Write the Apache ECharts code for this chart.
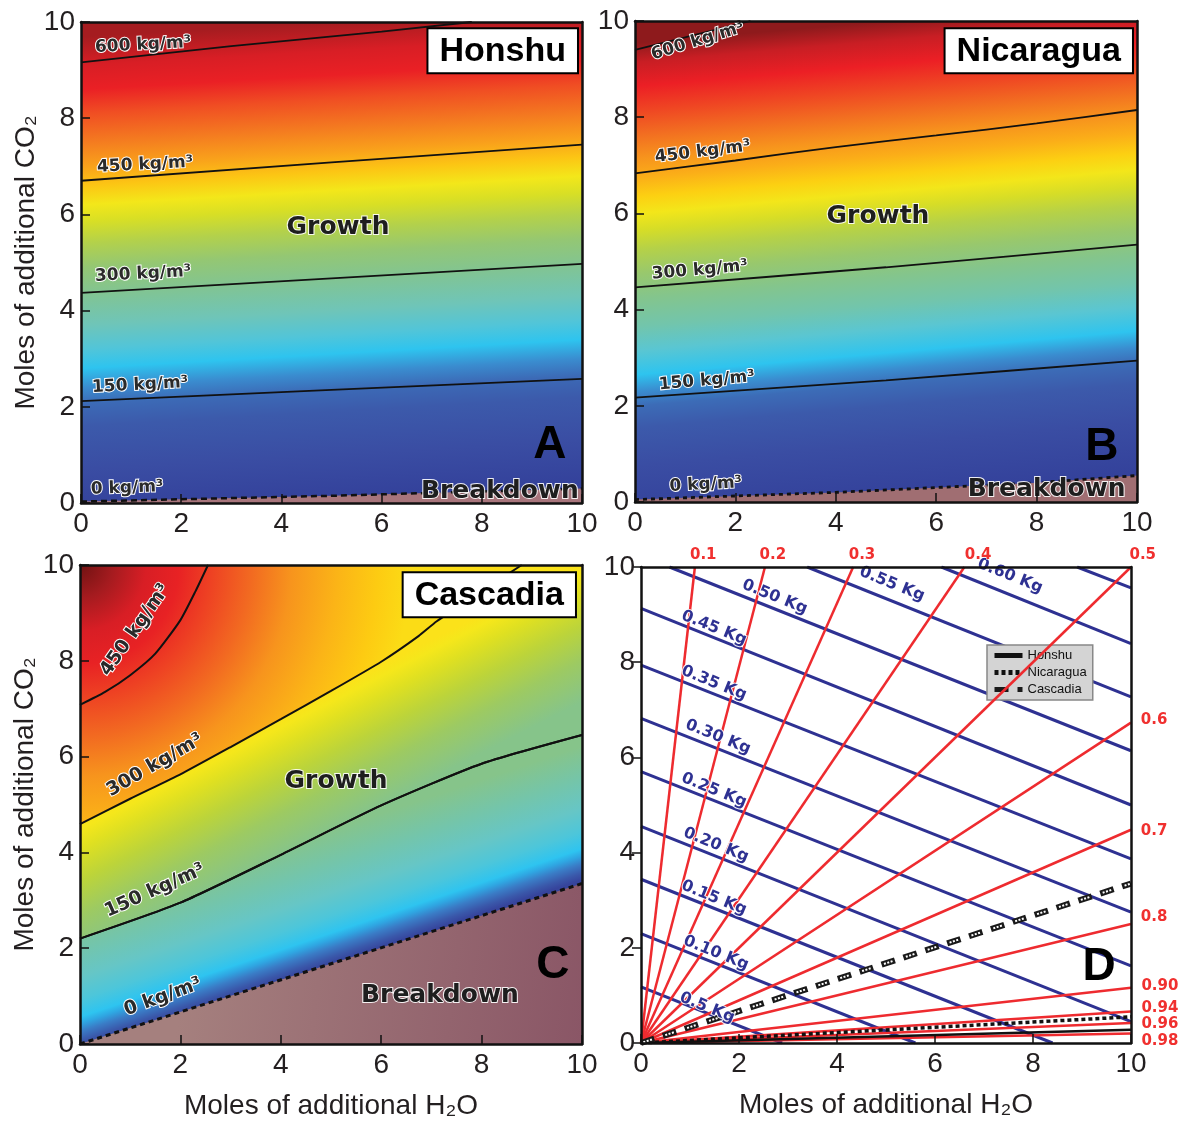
<!DOCTYPE html>
<html><head><meta charset="utf-8">
<script src="https://cdn.jsdelivr.net/npm/echarts/dist/echarts.min.js"></script>
<style>html,body{margin:0;padding:0;background:#fff}#c{width:1179px;height:1124px}</style>
</head><body><div id="c"></div>
<script>
// ---------------- DATA ----------------
const ticks = [0, 2, 4, 6, 8, 10];
const panelTitles = ['Honshu', 'Nicaragua', 'Cascadia'];
const panelLetters = ['A', 'B', 'C', 'D'];
const contourNames = ['600 kg/m³', '450 kg/m³', '300 kg/m³', '150 kg/m³', '0 kg/m³'];

// Panel A (Honshu) contour lines: [mol H2O, mol CO2]
const honshu600 = [[0,9.16],[3,9.5],[6,9.8],[7.8,10]];
const honshu450 = [[0,6.70],[5,7.08],[10,7.45]];
const honshu300 = [[0,4.37],[5,4.67],[10,4.97]];
const honshu150 = [[0,2.12],[5,2.35],[10,2.58]];
const honshu0   = [[0,0.03],[5,0.15],[10,0.30]];

// Panel B (Nicaragua)
const nicaragua600 = [[0,9.40],[2.3,10]];
const nicaragua450 = [[0,6.83],[2,7.10],[4,7.38],[6,7.62],[8,7.87],[10,8.15]];
const nicaragua300 = [[0,4.46],[5,4.88],[10,5.35]];
const nicaragua150 = [[0,2.17],[5,2.53],[10,2.94]];
const nicaragua0   = [[0,0.05],[4,0.20],[8,0.40],[10,0.55]];

// Panel C (Cascadia)
const cascadia450 = [[0,7.08],[0.5,7.35],[1,7.7],[1.5,8.15],[2,8.85],[2.3,9.45],[2.55,10]];
const cascadia300 = [[0,4.59],[1,5.12],[2,5.63],[3,6.2],[4,6.78],[5,7.37],[6,7.98],[6.75,8.52],[7.1,8.82],[8,9.45],[8.8,10]];
const cascadia150 = [[0,2.2],[2,2.95],[4,3.95],[6,4.98],[8,5.85],[10,6.45]];
const cascadia0   = [[0,0],[10,3.35]];

// Panel D: mole-fraction rays (from origin) and mass lines
const fractionLabels = ['0.1','0.2','0.3','0.4','0.5','0.6','0.7','0.8','0.90','0.94','0.96','0.98'];
const fractionEnds = [[1.1,10],[2.53,10],[4.33,10],[6.6,10],[10,10],[10,6.73],[10,4.48],[10,2.5],[10,1.16],[10,0.66],[10,0.42],[10,0.2]];
const massLabels = ['0.5 Kg','0.10 Kg','0.15 Kg','0.20 Kg','0.25 Kg','0.30 Kg','0.35 Kg','0.45 Kg','0.50 Kg','0.55 Kg','0.60 Kg'];
const massStarts = [[0,1.18],[0,2.30],[0,3.44],[0,4.55],[0,5.70],[0,6.82],[0,7.94],[0,9.13],[0.58,10],[3.39,10],[6.13,10],[8.9,10]];
const massEnds   = [[2.88,0],[5.6,0],[8.4,0],[10,0.45],[10,1.62],[10,2.75],[10,3.87],[10,5.00],[10,6.14],[10,7.27],[10,8.39],[10,9.56]];
const honshuPath    = [[0,0],[10,0.28]];
const nicaraguaPath = [[0,0],[10,0.55]];
const cascadiaPath  = [[0,0],[10,3.35]];

// ---------------- LAYOUT / STYLE ----------------
const FONT = '"Liberation Sans", Arial, sans-serif';
const DV = '"DejaVu Sans", sans-serif';
const GRIDS = [
  {left:81, top:22, width:501, height:481},
  {left:635, top:21, width:502, height:481},
  {left:80, top:565, width:502, height:479},
  {left:641, top:567, width:490, height:476}
];
const AMIN = ticks[0], AMAX = ticks[ticks.length-1], AINT = ticks[1]-ticks[0];
function toPx(gi, x, y) {
  const g = GRIDS[gi];
  return [g.left + (x-AMIN)/(AMAX-AMIN)*g.width, g.top + (1-(y-AMIN)/(AMAX-AMIN))*g.height];
}
function stopsOf(arr){ return arr.map(s => ({offset:s[0], color:s[1]})); }
function linGrad(gi, x0, y0, angleDeg, len, stops) {
  const p = toPx(gi, x0, y0), a = angleDeg*Math.PI/180;
  return new echarts.graphic.LinearGradient(p[0], p[1], p[0]-len*Math.sin(a), p[1]-len*Math.cos(a), stopsOf(stops), true);
}

const stopsA = [[0,'#33409a'],[0.10,'#3a4da3'],[0.19,'#3c5aab'],[0.235,'#3c6ab6'],[0.27,'#3a8ccf'],[0.31,'#2ec4ef'],[0.35,'#52c5d8'],[0.40,'#6fc5b8'],[0.46,'#80c495'],[0.52,'#94c773'],[0.57,'#b3d14b'],[0.615,'#d8df25'],[0.65,'#f3e71a'],[0.69,'#fcc514'],[0.73,'#f9a11b'],[0.78,'#f47b20'],[0.84,'#f04e23'],[0.89,'#ea2025'],[0.94,'#d81e25'],[1,'#a51c20']];
const stopsB = [[0,'#33409a'],[0.12,'#3a4da3'],[0.20,'#3c5aab'],[0.245,'#3c6cb7'],[0.275,'#3a8ccf'],[0.31,'#2ec4ef'],[0.36,'#5ac6d2'],[0.41,'#72c5ac'],[0.47,'#84c58c'],[0.52,'#98c86d'],[0.57,'#b5d148'],[0.61,'#d6dd27'],[0.645,'#f3e61a'],[0.68,'#fcd012'],[0.72,'#fbae18'],[0.76,'#f7941d'],[0.81,'#f26d21'],[0.86,'#ef4523'],[0.91,'#ec1f25'],[0.96,'#c81e24'],[1,'#8e1a1c']];
// Cascadia: lower band (0 -> 150 contour), middle band (150 -> 300 contour), upper corner
const stopsClow = [[0,'#36449c'],[0.05,'#3a58aa'],[0.12,'#3a7cc6'],[0.18,'#2fa6e2'],[0.23,'#2ec4f0'],[0.36,'#4dc6da'],[0.53,'#66c6c6'],[0.75,'#74c5aa'],[1,'#86c48a']];
const stopsCmid = [[0,'#86c48a'],[0.3,'#9dca62'],[0.55,'#bcd43a'],[0.78,'#dfe021'],[0.92,'#f5e71b'],[1,'#fbe21a']];
const stopsCtop = [[0,'#701212'],[0.1,'#a51b1f'],[0.2,'#d81e25'],[0.3,'#e82224'],[0.4,'#ee4223'],[0.52,'#f26a21'],[0.64,'#f7941d'],[0.78,'#fbb417'],[0.9,'#fdcb12'],[1,'#fbdc16']];

const gridBg = [
  linGrad(0, 5, 0, 3.3, 480, stopsA),
  linGrad(1, 5, 0, 5, 479, stopsB),
  linGrad(2, 5, 4.47, 27, 124, stopsCmid),
  '#ffffff'
];

const S_CONT = {fontFamily:DV, fontWeight:'bold', fontSize:17, color:'#2a2a2a', textBorderColor:'#ffffff', textBorderWidth:2};
const S_CONTC = Object.assign({}, S_CONT, {fontSize:19});
const S_REG = {fontFamily:DV, fontWeight:'bold', fontSize:25, color:'#1e1e1e', textBorderColor:'rgba(255,255,255,0.9)', textBorderWidth:2};
const S_LET = {fontFamily:FONT, fontWeight:'bold', fontSize:46, color:'#000'};
const S_TIT = {fontFamily:FONT, fontWeight:'bold', fontSize:34, lineHeight:38, color:'#000', backgroundColor:'#ffffff', borderColor:'#000', borderWidth:2, padding:[3,11,2,11], align:'right', verticalAlign:'top'};
const S_BLUE = {fontFamily:DV, fontWeight:'bold', fontSize:16, color:'#2e3192', textBorderColor:'rgba(255,255,255,0.9)', textBorderWidth:2};
const S_RED = {fontFamily:DV, fontWeight:'bold', fontSize:15, color:'#f0302f', textBorderColor:'#ffffff', textBorderWidth:1};

// ---------------- AXES ----------------
const xAxis = [], yAxis = [], grid = [];
const axisText = {fontFamily:FONT, fontSize:28, color:'#231f20'};
GRIDS.forEach((g, gi) => {
  grid.push(Object.assign({show:true, backgroundColor:gridBg[gi], borderWidth:0, containLabel:false}, g));
  const common = {gridIndex:gi, type:'value', min:AMIN, max:AMAX, interval:AINT, splitLine:{show:false}, z:10,
    axisLine:{show:true, onZero:false, lineStyle:{color:'#111', width:2.5}}};
  xAxis.push(Object.assign({}, common, {position:'bottom',
    axisTick:{show:true, inside:true, length:9, lineStyle:{color:'#111', width:1.5}},
    axisLabel:Object.assign({margin:7}, axisText),
    name:(gi>=2?'Moles of additional H₂O':''), nameLocation:'middle', nameGap:48,
    nameTextStyle:{fontFamily:FONT, fontSize:28, color:'#231f20'}}));
  xAxis.push(Object.assign({}, common, {position:'top', axisTick:{show:false}, axisLabel:{show:false}}));
  yAxis.push(Object.assign({}, common, {position:'left',
    axisTick:{show:true, inside:gi!==3, length:9, lineStyle:{color:'#111', width:1.5}},
    axisLabel:Object.assign({margin:6}, axisText),
    name:(gi===0||gi===2?'Moles of additional CO₂':''), nameLocation:'middle', nameGap:40,
    nameTextStyle:{fontFamily:FONT, fontSize:28, color:'#231f20'}}));
  yAxis.push(Object.assign({}, common, {position:'right', axisTick:{show:false}, axisLabel:{show:false}}));
});

// ---------------- SERIES ----------------
const series = [];
function line(gi, data, extra) {
  const s = Object.assign({type:'line', xAxisIndex:2*gi, yAxisIndex:2*gi, data:data, symbol:'none', showSymbol:false,
    silent:true, animation:false, lineStyle:{color:'#111', width:1.8}, itemStyle:{color:'#111'}, z:3}, extra||{});
  series.push(s); return s;
}
function ann(gi, items) {
  series.push({type:'scatter', xAxisIndex:2*gi, yAxisIndex:2*gi, clip:false, silent:true, animation:false,
    symbolSize:1, itemStyle:{color:'rgba(0,0,0,0)', opacity:1}, z:8,
    data: items.map(it => ({value:[it.x, it.y],
      label:Object.assign({show:true, position:'inside', formatter:it.t, rotate:it.rot||0, opacity:1}, it.s)}))});
}

// Panel A
line(0, honshu0, {areaStyle:{origin:'start', color:'#a8757c', opacity:1}, lineStyle:{color:'#111', width:2.5, type:[6,4]}});
[honshu150, honshu300, honshu450, honshu600].forEach(d => line(0, d));
ann(0, [
  {t:contourNames[0], x:1.24, y:9.52, rot:3, s:S_CONT},
  {t:contourNames[1], x:1.28, y:7.03, rot:3, s:S_CONT},
  {t:contourNames[2], x:1.24, y:4.76, rot:3, s:S_CONT},
  {t:contourNames[3], x:1.18, y:2.45, rot:3, s:S_CONT},
  {t:contourNames[4], x:0.92, y:0.31, rot:2, s:S_CONT},
  {t:'Growth', x:5.13, y:5.72, s:S_REG},
  {t:'Breakdown', x:8.36, y:0.24, s:S_REG},
  {t:panelLetters[0], x:9.36, y:1.2, s:S_LET},
  {t:panelTitles[0], x:9.9, y:9.85, s:S_TIT}
]);

// Panel B
line(1, nicaragua0, {areaStyle:{origin:'start', color:'#a06e72', opacity:1}, lineStyle:{color:'#111', width:2.8, type:[4,4]}});
[nicaragua150, nicaragua300, nicaragua450, nicaragua600].forEach(d => line(1, d, {smooth:0.2}));
ann(1, [
  {t:contourNames[0], x:1.25, y:9.58, rot:17, s:S_CONT},
  {t:contourNames[1], x:1.35, y:7.28, rot:7, s:S_CONT},
  {t:contourNames[2], x:1.29, y:4.82, rot:5, s:S_CONT},
  {t:contourNames[3], x:1.43, y:2.52, rot:5, s:S_CONT},
  {t:contourNames[4], x:1.41, y:0.36, rot:3, s:S_CONT},
  {t:'Growth', x:4.84, y:5.93, s:S_REG},
  {t:'Breakdown', x:8.2, y:0.27, s:S_REG},
  {t:panelLetters[1], x:9.3, y:1.14, s:S_LET},
  {t:panelTitles[1], x:9.9, y:9.83, s:S_TIT}
]);

// Panel C
line(2, cascadia150, {smooth:0.2, lineStyle:{color:'#111', width:2},
  areaStyle:{origin:'start', opacity:1, color:linGrad(2, 5, 1.675, 18.5, 127, stopsClow)}});
line(2, cascadia300, {areaStyle:{origin:'end', opacity:1,
  color:new echarts.graphic.RadialGradient(toPx(2,0,10)[0], toPx(2,0,10)[1], 330, stopsOf(stopsCtop), true)},
  lineStyle:{color:'#111', width:2}, smooth:0.15});
line(2, cascadia0, {areaStyle:{origin:'start', opacity:1,
  color:new echarts.graphic.LinearGradient(toPx(2,2,1)[0], toPx(2,2,1)[1], toPx(2,10,0)[0], toPx(2,10,0)[1], stopsOf([[0,'#a5807e'],[1,'#8a5666']]), true)},
  lineStyle:{color:'#111', width:3, type:[5,4]}});
line(2, cascadia150, {smooth:0.2, lineStyle:{color:'#111', width:2}});
line(2, cascadia450, {smooth:0.2, lineStyle:{color:'#111', width:2}});
ann(2, [
  {t:contourNames[1], x:1.1, y:8.64, rot:55, s:S_CONTC},
  {t:contourNames[2], x:1.49, y:5.82, rot:30, s:S_CONTC},
  {t:contourNames[3], x:1.49, y:3.2, rot:24, s:S_CONTC},
  {t:contourNames[4], x:1.65, y:0.98, rot:20, s:S_CONTC},
  {t:'Growth', x:5.1, y:5.49, s:S_REG},
  {t:'Breakdown', x:7.17, y:1.02, s:S_REG},
  {t:panelLetters[2], x:9.42, y:1.65, s:S_LET},
  {t:panelTitles[2], x:9.86, y:9.83, s:S_TIT}
]);

// Panel D
massStarts.forEach((p, i) => line(3, [p, massEnds[i]], {lineStyle:{color:'#2e3192', width:3}, z:3}));
fractionEnds.forEach(p => line(3, [[0,0], p], {lineStyle:{color:'#ee2b2f', width:2.5}, z:4}));
line(3, honshuPath, {name:'Honshu', lineStyle:{color:'#111', width:2.5}, z:5});
line(3, nicaraguaPath, {name:'Nicaragua', lineStyle:{color:'#111', width:3.5, type:[4,3]}, z:5});
line(3, cascadiaPath, {name:'Cascadia', lineStyle:{color:'#1a1a1a', width:6, type:[14,9]}, z:5});
line(3, cascadiaPath, {name:'cascadia-inner', lineStyle:{color:'#ffffff', width:2, type:[2,1.5,2,1.5,2,14], dashOffset:20.5}, z:6});
const massLabelPos = [[1.35,0.74],[1.53,1.89],[1.49,3.05],[1.53,4.16],[1.49,5.31],[1.57,6.43],[1.49,7.56],[1.49,8.72],[2.73,9.37],[5.12,9.64],[7.53,9.81]];
const fracLabelPos = [[1.27,10.25],[2.69,10.25],[4.51,10.25],[6.88,10.25],[10.24,10.25],[10.47,6.79],[10.47,4.45],[10.47,2.65],[10.59,1.2],[10.59,0.74],[10.59,0.4],[10.59,0.04]];
ann(3, massLabels.map((t, i) => ({t:t, x:massLabelPos[i][0], y:massLabelPos[i][1], rot:-22, s:S_BLUE}))
  .concat(fractionLabels.map((t, i) => ({t:t, x:fracLabelPos[i][0], y:fracLabelPos[i][1], s:S_RED})))
  .concat([{t:panelLetters[3], x:9.35, y:1.6, s:S_LET}]));

const chart = echarts.init(document.getElementById('c'), null, {renderer:'canvas'});
chart.setOption({
  animation:false,
  backgroundColor:'#ffffff',
  grid:grid, xAxis:xAxis, yAxis:yAxis, series:series,
  legend:{data:['Honshu','Nicaragua','Cascadia'], selectedMode:false, orient:'vertical', left:987, top:645,
    padding:[4,6,4,5], itemGap:4, itemWidth:28, itemHeight:12,
    itemStyle:{opacity:0}, lineStyle:{width:5},
    backgroundColor:'#d4d4d4', borderColor:'#888', borderWidth:1.5,
    textStyle:{fontFamily:FONT, fontSize:13, color:'#111'}}
});
</script></body></html>
